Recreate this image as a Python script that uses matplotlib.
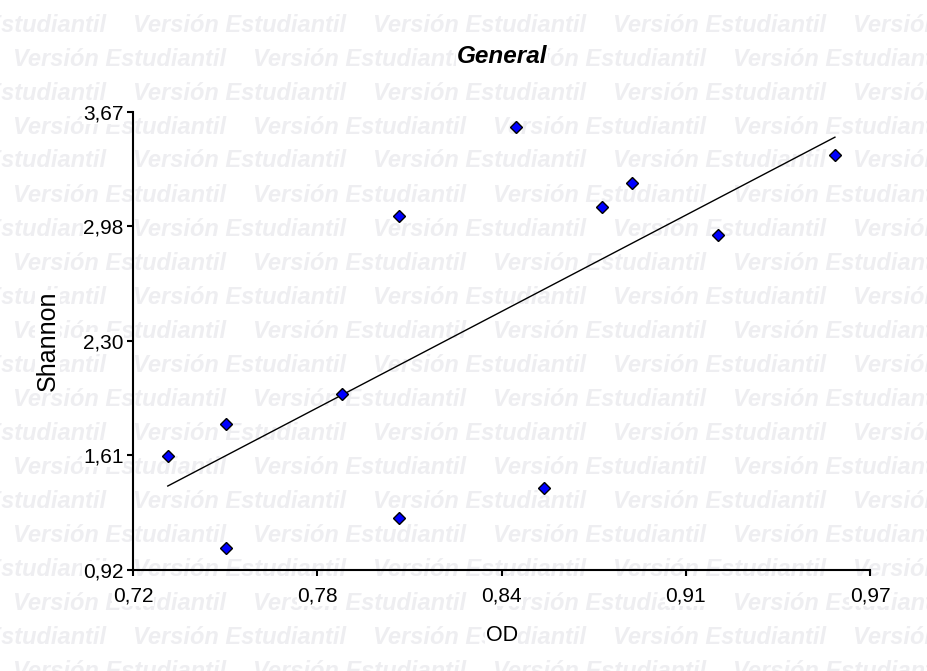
import numpy as np
import matplotlib
matplotlib.use("Agg")
import matplotlib.pyplot as plt
from matplotlib.ticker import FixedLocator

# ---- data ----
od = [0.7317, 0.7514, 0.7514, 0.7907, 0.8103, 0.8103, 0.8498, 0.8595, 0.8792, 0.8893, 0.9185, 0.9581]
shannon = [1.602, 1.794, 1.047, 1.976, 3.045, 1.228, 3.576, 1.408, 3.095, 3.240, 2.927, 3.410]

x_min, x_max = 0.72, 0.97
y_min, y_max = 0.92, 3.67
x_tick_labels = ["0,72", "0,78", "0,84", "0,91", "0,97"]
y_tick_labels = ["0,92", "1,61", "2,30", "2,98", "3,67"]

title = "General"
x_label = "OD"
y_label = "Shannon"
watermark = "Versión Estudiantil"

plt.rcParams['font.family'] = ['Liberation Sans', 'DejaVu Sans']

W, H = 927, 671
fig = plt.figure(figsize=(W / 100, H / 100), dpi=100)
fig.patch.set_facecolor("white")

# watermark grid (pixel layout)
wm_color = (0.935, 0.935, 0.945)
row_h = 34.0
for r in range(-1, 21):
    yc = 25 + r * row_h
    x0 = 133 if r % 2 == 0 else 13
    for k in range(-2, 6):
        xs = x0 + k * 240
        fig.text(xs / W, 1 - yc / H, watermark, fontsize=17, fontweight="bold",
                 fontstyle="italic", color=wm_color, ha="left", va="center",
                 zorder=-5)

left, right = 133.3, 870.0
top, bottom = 111.7, 569.5
ax = fig.add_axes([left / W, 1 - bottom / H, (right - left) / W, (bottom - top) / H])
ax.patch.set_alpha(0)

ax.set_xlim(x_min, x_max)
ax.set_ylim(y_min, y_max)

# regression line
coef = np.polyfit(od, shannon, 1)
xl = np.array([min(od), max(od)])
ax.plot(xl, np.polyval(coef, xl), color="black", lw=1.0, zorder=2)

ax.plot(od, shannon, linestyle="none", marker="D", markersize=6,
        markerfacecolor="#0000ff", markeredgecolor="black", markeredgewidth=1.0,
        zorder=3)

for s in ["top", "right"]:
    ax.spines[s].set_visible(False)
for s in ["left", "bottom"]:
    ax.spines[s].set_linewidth(1.5)
    ax.spines[s].set_color("black")

ax.xaxis.set_major_locator(FixedLocator(np.linspace(x_min, x_max, 5)))
ax.yaxis.set_major_locator(FixedLocator(np.linspace(y_min, y_max, 5)))
ax.set_xticklabels(x_tick_labels)
ax.set_yticklabels(y_tick_labels)
ax.tick_params(axis="both", direction="out", length=4, width=1.5, labelsize=15,
               colors="black")
ax.tick_params(axis="x", pad=8)
ax.tick_params(axis="y", pad=3)

for lbl in ax.get_xticklabels() + ax.get_yticklabels():
    lbl.set_bbox(dict(facecolor="white", edgecolor="none", pad=0.5))

ax.set_title(title, fontsize=17.5, fontweight="bold", fontstyle="italic", pad=35,
             bbox=dict(facecolor="white", edgecolor="none", pad=0.5))
ax.set_xlabel(x_label, fontsize=15.5, labelpad=14,
              bbox=dict(facecolor="white", edgecolor="none", pad=0.5))
ax.set_ylabel(y_label, fontsize=18, labelpad=17,
              bbox=dict(facecolor="white", edgecolor="none", pad=0.5))

fig.savefig("out.png", dpi=100)
